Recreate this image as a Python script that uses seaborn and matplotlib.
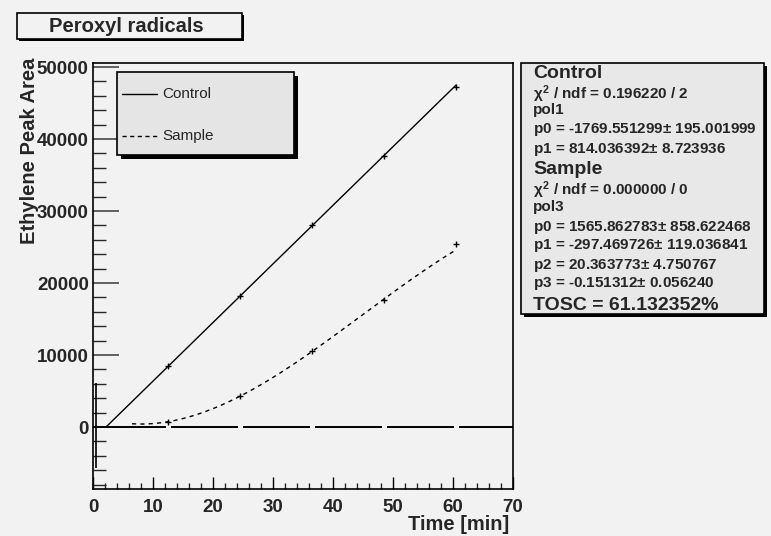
import numpy as np
import pandas as pd
import matplotlib
matplotlib.use("Agg")
import matplotlib.pyplot as plt
from matplotlib.patches import Rectangle
import seaborn as sns

# ---- data ----
time_min = [12.5, 24.5, 36.5, 48.5, 60.5]
control_area = [8450, 18200, 28000, 37650, 47200]
sample_area = [700, 4300, 10500, 17700, 25400]

# fit parameters shown in the stats box
control_fit = [-1769.551299, 814.036392]                        # pol1
sample_fit = [1565.862783, -297.469726, 20.363773, -0.151312]   # pol3
control_fit_range = [1769.551299 / 814.036392, 60.5]
sample_fit_range = [6.5, 60.5]

# zero-reference line at the bottom and the vertical marker near t=0
zero_x = [0.55]
zero_err = [-5700, 6100]

stats_lines = [
    ("Control", 14, 73),
    (r"$\chi^2$ / ndf = 0.196220 / 2", 11, 94),
    ("pol1", 11, 110),
    ("p0 = -1769.551299$\\pm$ 195.001999", 11, 130),
    ("p1 = 814.036392$\\pm$ 8.723936", 11, 150),
    ("Sample", 14, 170),
    (r"$\chi^2$ / ndf = 0.000000 / 0", 11, 190),
    ("pol3", 11, 207),
    ("p0 = 1565.862783$\\pm$ 858.622468", 11, 227),
    ("p1 = -297.469726$\\pm$ 119.036841", 11, 246),
    ("p2 = 20.363773$\\pm$ 4.750767", 11, 265),
    ("p3 = -0.151312$\\pm$ 0.056240", 11, 284),
    ("TOSC = 61.132352%", 14, 306),
]

sns.set_theme(style="ticks")
plt.rcParams["font.family"] = ["Liberation Sans", "DejaVu Sans"]
plt.rcParams["mathtext.fontset"] = "custom"
plt.rcParams["mathtext.rm"] = "Liberation Sans:bold"
plt.rcParams["mathtext.it"] = "Liberation Sans:bold"
plt.rcParams["mathtext.bf"] = "Liberation Sans:bold"

BG = "#f2f2f2"
W, H = 771, 536
fig = plt.figure(figsize=(W / 100, H / 100), dpi=100, facecolor=BG)

L, R, T, B = 93, 513, 63, 489
ax = fig.add_axes([L / W, 1 - B / H, (R - L) / W, (B - T) / H])
ax.set_facecolor(BG)

# fit curves
xc = np.linspace(control_fit_range[0], control_fit_range[1], 200)
yc = np.polyval(control_fit[::-1], xc)
xs = np.linspace(sample_fit_range[0], sample_fit_range[1], 300)
ys = np.polyval(sample_fit[::-1], xs)
df_c = pd.DataFrame({"t": xc, "y": yc})
df_s = pd.DataFrame({"t": xs, "y": ys})
sns.lineplot(data=df_c, x="t", y="y", ax=ax, color="black", lw=1.0)
sns.lineplot(data=df_s, x="t", y="y", ax=ax, color="black", lw=1.0)
ax.lines[-1].set_dashes([3, 3])

# zero line with gaps at data points
starts = [0] + [t + 0.45 for t in time_min]
ends = [t - 0.35 for t in time_min] + [70]
ax.hlines([0] * len(starts), starts, ends, color="black", lw=1.4)
ax.vlines(zero_x, zero_err[0], zero_err[1], color="black", lw=1.2)

# data points
pts = pd.DataFrame({"t": time_min * 2,
                    "y": control_area + sample_area})
sns.scatterplot(data=pts, x="t", y="y", ax=ax, marker="+", color="black",
                s=25, linewidth=1.0, zorder=5)

ax.set_xlim(0, 70)
ax.set_ylim(-8611, 50556)
ax.set_xticks(np.arange(0, 71, 10))
ax.set_xticks(np.arange(0, 71, 2), minor=True)
ax.set_yticks(np.arange(0, 50001, 10000))
ax.set_yticks(np.arange(-8000, 50001, 2000), minor=True)
ax.tick_params(axis="x", which="major", direction="in", length=9, width=1,
               labelsize=13.5, pad=7.5, color="black")
ax.tick_params(axis="x", which="minor", direction="in", length=4.5, width=1)
ax.tick_params(axis="y", which="major", direction="in", length=19, width=1.3,
               labelsize=13.5, pad=3, color="#555555")
ax.tick_params(axis="y", which="minor", direction="in", length=9.5, width=1)
for lab in ax.get_xticklabels() + ax.get_yticklabels():
    lab.set_fontweight("bold")
for sp in ax.spines.values():
    sp.set_visible(True)
    sp.set_color("black")
    sp.set_linewidth(1.2)
ax.set_xlabel("")
ax.set_ylabel("")

# overlay in pixel coordinates
ov = fig.add_axes([0, 0, 1, 1], facecolor="none")
ov.set_xlim(0, W)
ov.set_ylim(H, 0)
ov.axis("off")


def box(x0, y0, x1, y1, fc, shadow=3, lw=1.2):
    ov.add_patch(Rectangle((x0 + shadow, y0 + shadow), x1 - x0, y1 - y0,
                           facecolor="black", edgecolor="none", zorder=1))
    ov.add_patch(Rectangle((x0, y0), x1 - x0, y1 - y0, facecolor=fc,
                           edgecolor="black", lw=lw, zorder=2))


# title
box(17, 13, 242, 39, BG, shadow=2)
ov.text(126, 27, "Peroxyl radicals", ha="center", va="center",
        fontsize=14.5, fontweight="bold", zorder=3)

# axis titles
ov.text(30, 58, "Ethylene Peak Area", rotation=90, ha="center", va="top",
        fontsize=14.5, fontweight="bold", zorder=3)
ov.text(509, 524, "Time [min]", ha="right", va="center",
        fontsize=14.5, fontweight="bold", zorder=3)

# legend
box(117, 72, 294, 155, "#e5e5e5", shadow=3.5)
ov.plot([122, 157], [94, 94], color="black", lw=1.0, zorder=3)
ov.plot([122, 157], [136, 136], color="black", lw=1.0, dashes=[3, 2.5], zorder=3)
ov.text(162, 94, "Control", ha="left", va="center", fontsize=11, zorder=3)
ov.text(162, 136, "Sample", ha="left", va="center", fontsize=11, zorder=3)

# stats box
box(521, 63, 764, 314, "#e8e8e8", shadow=2.5)
for txt, fs, yy in stats_lines:
    ov.text(533, yy, txt, ha="left", va="center", fontsize=fs,
            fontweight="bold", zorder=3)

fig.savefig("out.png", dpi=100, facecolor=BG)
